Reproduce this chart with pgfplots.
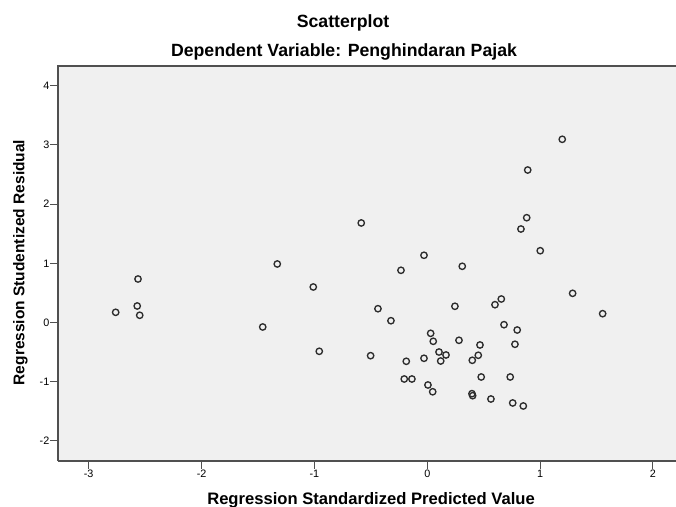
\documentclass[border=0pt]{standalone}
\usepackage{fontspec}
\setmainfont{Liberation Sans}
\usepackage{pgfplots}
\pgfplotsset{compat=1.18}

\definecolor{spssbg}{RGB}{240,240,240}
\definecolor{spssframe}{RGB}{80,80,80}
\definecolor{spssmark}{RGB}{45,45,45}

\begin{document}
\begin{tikzpicture}
\begin{axis}[
    at={(0pt,0pt)}, anchor=south west,
    scale only axis,
    width=618pt, height=395pt,
    xmin=-3.272, xmax=2.204,
    ymin=-2.341, ymax=4.335,
    xtick={-3,-2,-1,0,1,2},
    ytick={-2,-1,0,1,2,3,4},
    tick pos=left,
    tick align=outside,
    major tick length=7.5pt,
    tick style={spssframe, line width=1pt},
    axis line style={draw=none},
    axis background/.style={fill=spssbg},
    /pgf/number format/assume math mode=true,
    ticklabel style={font=\fontsize{10.8}{12}\selectfont, text=black},
    yticklabel style={inner sep=1pt},
    xticklabel style={inner sep=1.5pt},
    xlabel={Regression Standardized Predicted Value},
    ylabel={Regression Studentized Residual},
    every axis x label/.style={at={(axis description cs:0.5065,-0.1104)}, anchor=base,
        font=\fontsize{16.6}{19}\selectfont\bfseries},
    every axis y label/.style={at={(axis description cs:-0.0544,0.5025)}, anchor=base,
        rotate=90, font=\fontsize{15.5}{18}\selectfont\bfseries},
    clip=false,
]
% frame: the right side lies outside the cropped picture
\draw[spssframe, line width=1.3pt] (rel axis cs:0,0) -- (rel axis cs:1,0);
\draw[spssframe, line width=1.3pt] (rel axis cs:0,0) -- (rel axis cs:0,1) -- (rel axis cs:1,1);

\addplot[only marks, mark=o, mark size=3.2pt,
    mark options={draw=spssmark, line width=1.35pt}]
    coordinates {
    (-2.761,0.172) (-2.570,0.279) (-2.548,0.122) (-2.563,0.735)
    (-1.458,-0.076) (-1.010,0.600) (-0.957,-0.487) (-1.329,0.989)
    (1.196,3.096) (0.890,2.577) (0.881,1.771) (0.830,1.580)
    (1.001,1.213) (-0.585,1.682) (-0.029,1.136) (-0.233,0.882)
    (0.310,0.950) (1.288,0.493) (1.554,0.149) (-0.437,0.233)
    (-0.322,0.030) (0.245,0.274) (0.656,0.397) (0.600,0.301)
    (0.680,-0.037) (0.797,-0.127) (0.030,-0.183) (0.053,-0.318)
    (0.281,-0.301) (0.467,-0.380) (0.777,-0.368) (-0.502,-0.561)
    (-0.186,-0.656) (-0.029,-0.605) (0.104,-0.499) (0.166,-0.549)
    (0.119,-0.651) (0.452,-0.554) (0.399,-0.639) (-0.204,-0.955)
    (-0.136,-0.955) (0.478,-0.921) (0.735,-0.921) (0.006,-1.056)
    (0.048,-1.171) (0.396,-1.203) (0.402,-1.237) (0.564,-1.293)
    (0.757,-1.360) (0.851,-1.411)
    };

\node[anchor=base, font=\fontsize{17.7}{20}\selectfont\bfseries]
    at (axis description cs:0.4612,1.098) {Scatterplot};
\node[anchor=base, font=\fontsize{17.7}{20}\selectfont\bfseries]
    at (axis description cs:0.4628,1.0253) {Dependent Variable: Penghindaran Pajak};
\end{axis}
\pgfresetboundingbox
\path[use as bounding box] (-58pt,-45pt) rectangle (618pt,461pt);
\end{tikzpicture}
\end{document}
